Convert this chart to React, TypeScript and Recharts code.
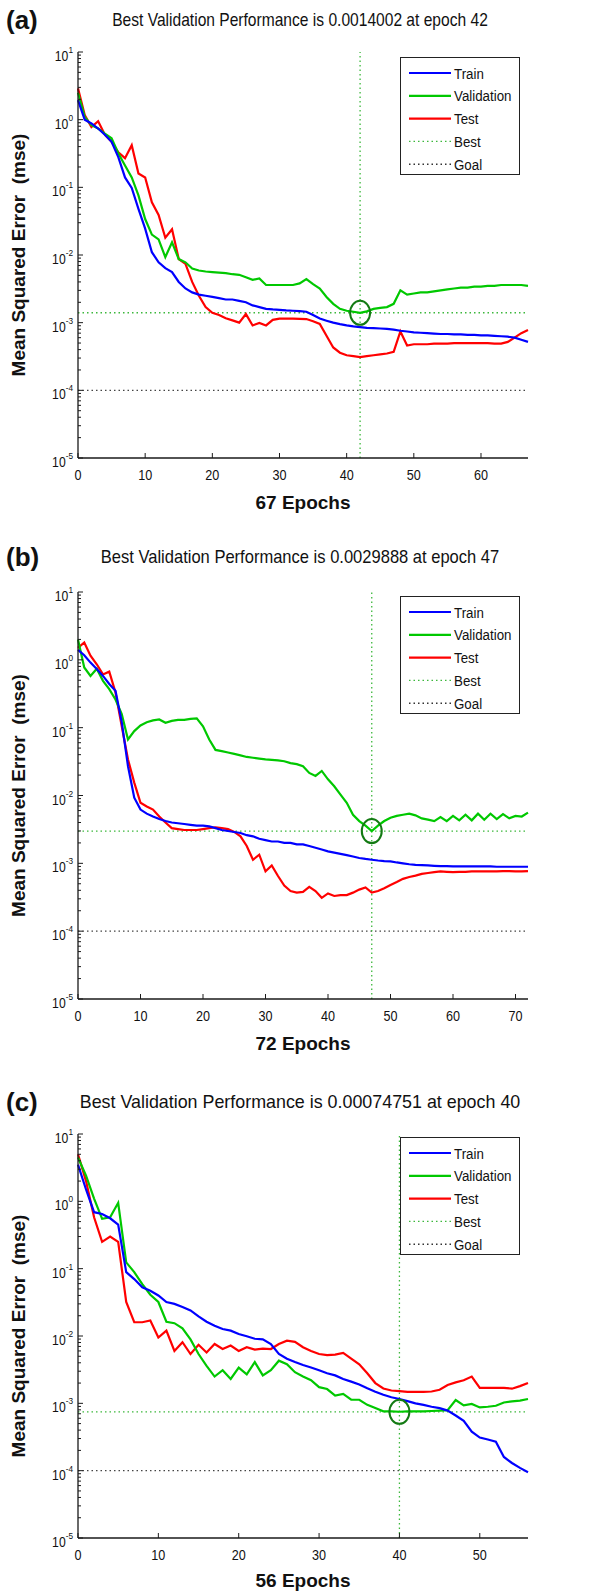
import React from 'react'
import { LineChart, Line, XAxis, YAxis, ReferenceLine, ReferenceDot } from 'recharts'

const FONT = 'Liberation Sans, Arial, Helvetica, sans-serif'

// ---- panel (a): 67 epochs ----
const TRAIN_A = [
  1.95, 1.0, 0.88, 0.74, 0.6, 0.47, 0.28, 0.14, 0.098, 0.048, 0.0245, 0.011, 0.0078, 0.0064, 0.0056, 0.004,
  0.0032, 0.0028, 0.0026, 0.0025, 0.0024, 0.0023, 0.0022, 0.0022, 0.0021, 0.002, 0.0018, 0.0017, 0.0016, 0.00157,
  0.00155, 0.00152, 0.0015, 0.00148, 0.00145, 0.0013, 0.00115, 0.00107, 0.001, 0.00095, 0.00091, 0.00088, 0.00086,
  0.00084, 0.00083, 0.00082, 0.00081, 0.00079, 0.00076, 0.00074, 0.00072, 0.00071, 0.0007, 0.00069, 0.00068,
  0.00068, 0.00067, 0.00067, 0.00066, 0.00066, 0.00065, 0.00065, 0.00064, 0.00063, 0.00062, 0.0006, 0.00056, 0.00052,
]
const VAL_A = [
  2.5, 1.1, 0.83, 0.74, 0.62, 0.53, 0.32, 0.21, 0.14, 0.076, 0.034, 0.02, 0.017, 0.0093, 0.0154, 0.0087, 0.0078,
  0.0063, 0.0059, 0.0057, 0.0056, 0.0055, 0.0054, 0.0052, 0.0051, 0.0047, 0.0043, 0.0045, 0.0036, 0.0036, 0.0036,
  0.0036, 0.0036, 0.0038, 0.0044, 0.0037, 0.0032, 0.0024, 0.0019, 0.0016, 0.0015, 0.00145, 0.0014, 0.00147,
  0.0016, 0.00165, 0.0017, 0.0019, 0.003, 0.0026, 0.0027, 0.0028, 0.0028, 0.0029, 0.003, 0.0031, 0.0032, 0.0033,
  0.0033, 0.0034, 0.0034, 0.0035, 0.0035, 0.0036, 0.0036, 0.0036, 0.0036, 0.0035,
]
const TEST_A = [
  2.9, 1.17, 0.78, 0.95, 0.6, 0.47, 0.33, 0.27, 0.42, 0.16, 0.14, 0.06, 0.039, 0.018, 0.024, 0.0087, 0.0074,
  0.004, 0.0025, 0.0017, 0.0014, 0.0013, 0.00116, 0.00108, 0.001, 0.00134, 0.00091, 0.00099, 0.00091, 0.0011,
  0.00115, 0.00115, 0.00115, 0.00114, 0.00113, 0.00105, 0.00096, 0.00064, 0.00043, 0.00036, 0.00033, 0.00032,
  0.00031, 0.00032, 0.00033, 0.00034, 0.00035, 0.00037, 0.00074, 0.00046, 0.00048, 0.00048, 0.00048, 0.00049,
  0.00049, 0.00049, 0.0005, 0.0005, 0.0005, 0.0005, 0.0005, 0.0005, 0.00049, 0.00049, 0.00052, 0.0006, 0.0007, 0.00078,
]

// ---- panel (b): 72 epochs ----
const TRAIN_B = [
  1.4, 1.17, 0.91, 0.73, 0.58, 0.44, 0.35, 0.12, 0.027, 0.0093, 0.0062, 0.0054, 0.0049, 0.0045, 0.0042, 0.004,
  0.0039, 0.0038, 0.0037, 0.0036, 0.0036, 0.0035, 0.0033, 0.0031, 0.003, 0.0029, 0.0028, 0.0026, 0.0025, 0.0023,
  0.0022, 0.0021, 0.0021, 0.002, 0.002, 0.0019, 0.0019, 0.0018, 0.0017, 0.0016, 0.0015, 0.00144, 0.00138,
  0.00132, 0.00126, 0.0012, 0.00116, 0.00113, 0.0011, 0.00108, 0.00107, 0.00103, 0.001, 0.00097, 0.00095,
  0.00094, 0.00093, 0.00092, 0.00091, 0.00091, 0.0009, 0.0009, 0.0009, 0.0009, 0.0009, 0.0009, 0.0009, 0.00089,
  0.00089, 0.00089, 0.00089, 0.00089, 0.00089,
]
const VAL_B = [
  2.0, 0.77, 0.58, 0.74, 0.49, 0.37, 0.26, 0.158, 0.067, 0.089, 0.108, 0.12, 0.128, 0.132, 0.118, 0.126, 0.13,
  0.13, 0.135, 0.137, 0.105, 0.067, 0.047, 0.045, 0.043, 0.041, 0.039, 0.037, 0.036, 0.035, 0.034, 0.0335, 0.033,
  0.032, 0.03, 0.029, 0.027, 0.0215, 0.0194, 0.023, 0.0173, 0.0137, 0.0103, 0.0078, 0.0052, 0.0042, 0.0036,
  0.003, 0.0036, 0.0042, 0.0047, 0.005, 0.0052, 0.0054, 0.0051, 0.0046, 0.0044, 0.0042, 0.0048, 0.0042, 0.005,
  0.0043, 0.0052, 0.0043, 0.0054, 0.0044, 0.0054, 0.0045, 0.0053, 0.0046, 0.005, 0.0049, 0.0056,
]
const TEST_B = [
  1.5, 1.8, 1.15, 0.86, 0.61, 0.67, 0.33, 0.105, 0.034, 0.0155, 0.0078, 0.0069, 0.0062, 0.0049, 0.004, 0.0033,
  0.0032, 0.0031, 0.0031, 0.0031, 0.0032, 0.0033, 0.0034, 0.0033, 0.0032, 0.0029, 0.0025, 0.0018, 0.00113,
  0.00134, 0.00076, 0.00093, 0.00065, 0.00047, 0.00039, 0.00037, 0.00038, 0.00045, 0.00039, 0.00031, 0.00036,
  0.00033, 0.00034, 0.00034, 0.00037, 0.00041, 0.00044, 0.00037, 0.00039, 0.00043, 0.00048, 0.00053, 0.00059,
  0.00063, 0.00066, 0.0007, 0.00072, 0.00074, 0.00076, 0.00075, 0.00074, 0.00075, 0.00075, 0.00076, 0.00076,
  0.00076, 0.00076, 0.00076, 0.00077, 0.00077, 0.00076, 0.00076, 0.00077,
]

// ---- panel (c): 56 epochs ----
const TRAIN_C = [
  3.5, 1.5, 0.69, 0.65, 0.56, 0.45, 0.089, 0.07, 0.053, 0.047, 0.04, 0.032, 0.03, 0.027, 0.024, 0.0196, 0.0163,
  0.0142, 0.0127, 0.012, 0.0107, 0.0099, 0.0091, 0.0089, 0.0076, 0.0054, 0.0046, 0.0041, 0.0037, 0.0034, 0.0031,
  0.0028, 0.0026, 0.0023, 0.0021, 0.0019, 0.00167, 0.00149, 0.00134, 0.00123, 0.00116, 0.00108, 0.001, 0.00095,
  0.00089, 0.00085, 0.00078, 0.00066, 0.00055, 0.00038, 0.00031, 0.00029, 0.00027, 0.00016, 0.00013, 0.00011, 0.000095,
]
const VAL_C = [
  4.5, 2.4, 1.1, 0.55, 0.58, 0.95, 0.124, 0.089, 0.059, 0.041, 0.032, 0.0163, 0.0155, 0.013, 0.0089, 0.0054,
  0.0036, 0.0025, 0.0031, 0.0023, 0.0034, 0.0027, 0.0041, 0.0026, 0.0031, 0.0043, 0.0038, 0.0029, 0.0025, 0.0022,
  0.00174, 0.00163, 0.0013, 0.00138, 0.00113, 0.00113, 0.00095, 0.00085, 0.00076, 0.00076, 0.00075, 0.00076,
  0.00076, 0.00076, 0.00077, 0.00078, 0.00079, 0.00112, 0.00093, 0.00098, 0.00087, 0.00089, 0.00092, 0.00103,
  0.00107, 0.0011, 0.00116,
]
const TEST_C = [
  5.0, 2.0, 0.58, 0.25, 0.3, 0.25, 0.032, 0.016, 0.016, 0.017, 0.0095, 0.012, 0.006, 0.0081, 0.0054, 0.0074,
  0.0057, 0.0076, 0.0064, 0.0072, 0.006, 0.0068, 0.0063, 0.0065, 0.0064, 0.0076, 0.0085, 0.0082, 0.0068, 0.006,
  0.0054, 0.0052, 0.0053, 0.0056, 0.0046, 0.0038, 0.0028, 0.002, 0.00166, 0.00155, 0.00152, 0.00148, 0.00148,
  0.00148, 0.0015, 0.00159, 0.00187, 0.00205, 0.0022, 0.0025, 0.0017, 0.0017, 0.0017, 0.0017, 0.00165, 0.0018, 0.002,
]

const Y_MAJOR = [1e-5, 1e-4, 1e-3, 1e-2, 1e-1, 1, 10]
const X_TICKS_A = [0, 10, 20, 30, 40, 50, 60]
const X_TICKS_B = [0, 10, 20, 30, 40, 50, 60, 70]
const X_TICKS_C = [0, 10, 20, 30, 40, 50]
const LEGEND_NAMES = ['Train', 'Validation', 'Test', 'Best', 'Goal']
const GOAL = 1e-4

// minor log ticks 2..9 within each decade
const Y_TICKS = Y_MAJOR.flatMap((d, i) =>
  i === Y_MAJOR.length - 1 ? [d] : [d, 2 * d, 3 * d, 4 * d, 5 * d, 6 * d, 7 * d, 8 * d, 9 * d],
)

const BLUE = '#0000ff'
const GREEN = '#00c800'
const RED = '#ff0000'
const BEST_GREEN = '#3cb83c'
const CIRCLE_GREEN = '#137a13'
const AXIS = '#1a1a1a'

const PLOT_LEFT = 78
const PLOT_RIGHT = 528
const SQUEEZE = 0.82 // the source figure is horizontally squeezed

interface PanelProps {
  letter: string
  title: string
  titleScale: number
  xLabel: string
  top: number
  height: number
  plotTop: number
  plotBottom: number
  titleY: number
  legendTop: number
  train: number[]
  val: number[]
  test: number[]
  xTicks: number[]
  bestEpoch: number
  bestValue: number
}

const LEGEND_STYLE = [
  { color: BLUE, dash: undefined },
  { color: GREEN, dash: undefined },
  { color: RED, dash: undefined },
  { color: BEST_GREEN, dash: '1.5 3' },
  { color: '#333', dash: '1.5 3' },
]

const Legend: React.FC<{ left: number; top: number }> = ({ left, top }) => (
  <svg
    width={120}
    height={118}
    style={{ position: 'absolute', left, top, background: '#fff', border: '1px solid #222', boxSizing: 'border-box' }}
  >
    {LEGEND_NAMES.map((name, i) => {
      const y = 15 + i * 22.8
      const st = LEGEND_STYLE[i]
      return (
        <g key={name}>
          <line x1={8} x2={50} y1={y} y2={y} stroke={st.color} strokeWidth={st.dash ? 1.4 : 2.2} strokeDasharray={st.dash} />
          <text transform={`translate(53 ${y + 5.5}) scale(0.86 1)`} fontSize={15.5} fontFamily={FONT} fill="#111">
            {name}
          </text>
        </g>
      )
    })}
  </svg>
)

const BestCircle = (props: any) => (
  <ellipse cx={props.cx} cy={props.cy} rx={10} ry={12} fill="none" stroke={CIRCLE_GREEN} strokeWidth={2} />
)

const Panel: React.FC<PanelProps> = (p) => {
  const data = p.train.map((t, i) => ({ epoch: i, train: t, val: p.val[i], test: p.test[i] }))
  const xMax = p.train.length - 1
  const axisY = p.plotBottom - p.top
  const xAxisHeight = p.height - axisY

  const yTick = (props: any) => {
    const { y, payload } = props
    const lg = Math.log10(payload.value)
    const exp = Math.round(lg)
    const major = Math.abs(lg - exp) < 1e-6
    return (
      <g>
        <line x1={PLOT_LEFT} x2={PLOT_LEFT + (major ? 5 : 3)} y1={y} y2={y} stroke={AXIS} strokeWidth={1} />
        {major && (
          <text
            transform={`translate(${PLOT_LEFT - 5} ${y + 9}) scale(${SQUEEZE + 0.05} 1)`}
            textAnchor="end"
            fontSize={14}
            fontFamily={FONT}
            fill="#111"
          >
            10
            <tspan dy={-8} fontSize={9.5}>
              {exp}
            </tspan>
          </text>
        )}
      </g>
    )
  }

  const xTick = (props: any) => {
    const { x, payload } = props
    return (
      <g>
        <line x1={x} x2={x} y1={axisY} y2={axisY - 5} stroke={AXIS} strokeWidth={1} />
        <text
          transform={`translate(${x} ${axisY + 22}) scale(${SQUEEZE + 0.05} 1)`}
          textAnchor="middle"
          fontSize={14.5}
          fontFamily={FONT}
          fill="#111"
        >
          {payload.value}
        </text>
      </g>
    )
  }

  return (
    <div style={{ position: 'absolute', left: 0, top: p.top, width: 607, height: p.height }}>
      <div
        style={{
          position: 'absolute', left: 6, top: p.titleY - p.top - 12, fontFamily: FONT, fontSize: 26,
          fontWeight: 'bold', lineHeight: '26px', color: '#111',
        }}
      >
        {p.letter}
      </div>
      <div
        style={{
          position: 'absolute', left: 300, top: p.titleY - p.top - 9.5, transform: `translateX(-50%) scaleX(${p.titleScale})`,
          whiteSpace: 'nowrap', fontFamily: FONT, fontSize: 19, lineHeight: '19px', color: '#111',
        }}
      >
        {p.title}
      </div>
      <LineChart
        width={607}
        height={p.height}
        data={data}
        margin={{ top: p.plotTop - p.top, right: 607 - PLOT_RIGHT, bottom: 0, left: 0 }}
        style={{ position: 'absolute', left: 0, top: 0 }}
      >
        <XAxis
          dataKey="epoch"
          type="number"
          domain={[0, xMax]}
          ticks={p.xTicks}
          interval={0}
          height={xAxisHeight}
          tickLine={false}
          tick={xTick}
          axisLine={{ stroke: AXIS, strokeWidth: 1.3 }}
          label={{
            value: p.xLabel, position: 'insideBottom', offset: Math.max(xAxisHeight - 51, 4),
            fontSize: 19, fontWeight: 'bold', fontFamily: FONT, fill: '#111',
          }}
        />
        <YAxis
          type="number"
          scale="log"
          domain={[1e-5, 10]}
          allowDataOverflow
          ticks={Y_TICKS}
          interval={0}
          width={PLOT_LEFT}
          tickLine={false}
          tick={yTick}
          axisLine={{ stroke: AXIS, strokeWidth: 1.3 }}
          label={{
            value: 'Mean Squared Error\u00a0 (mse)', angle: -90, position: 'insideLeft', offset: 18,
            style: { textAnchor: 'middle' }, fontSize: 19, fontWeight: 'bold', fontFamily: FONT, fill: '#111',
          }}
        />
        <ReferenceLine y={GOAL} stroke="#444" strokeWidth={1.3} strokeDasharray="1.5 3" />
        <ReferenceLine y={p.bestValue} stroke={BEST_GREEN} strokeWidth={1.3} strokeDasharray="1.5 3" />
        <ReferenceLine x={p.bestEpoch} stroke={BEST_GREEN} strokeWidth={1.3} strokeDasharray="1.5 3" />
        <Line dataKey="test" stroke={RED} strokeWidth={2.2} dot={false} isAnimationActive={false} />
        <Line dataKey="val" stroke={GREEN} strokeWidth={2.2} dot={false} isAnimationActive={false} />
        <Line dataKey="train" stroke={BLUE} strokeWidth={2.2} dot={false} isAnimationActive={false} />
        <ReferenceDot x={p.bestEpoch} y={p.bestValue} r={11} shape={BestCircle} />
      </LineChart>
      <Legend left={400} top={p.legendTop - p.top} />
    </div>
  )
}

export default function App() {
  return (
    <div style={{ position: 'absolute', left: 0, top: 0, width: 607, height: 1591, background: '#fff', overflow: 'hidden' }}>
      <Panel
        letter="(a)"
        title="Best Validation Performance is 0.0014002 at epoch 42"
        titleScale={0.82}
        xLabel="67 Epochs"
        top={0}
        height={520}
        plotTop={52}
        plotBottom={458}
        titleY={19}
        legendTop={57}
        train={TRAIN_A}
        val={VAL_A}
        test={TEST_A}
        xTicks={X_TICKS_A}
        bestEpoch={42}
        bestValue={0.0014002}
      />
      <Panel
        letter="(b)"
        title="Best Validation Performance is 0.0029888 at epoch 47"
        titleScale={0.87}
        xLabel="72 Epochs"
        top={520}
        height={540}
        plotTop={592}
        plotBottom={999}
        titleY={556}
        legendTop={596}
        train={TRAIN_B}
        val={VAL_B}
        test={TEST_B}
        xTicks={X_TICKS_B}
        bestEpoch={47}
        bestValue={0.0029888}
      />
      <Panel
        letter="(c)"
        title="Best Validation Performance is 0.00074751 at epoch 40"
        titleScale={0.94}
        xLabel="56 Epochs"
        top={1060}
        height={531}
        plotTop={1134}
        plotBottom={1538}
        titleY={1101}
        legendTop={1137}
        train={TRAIN_C}
        val={VAL_C}
        test={TEST_C}
        xTicks={X_TICKS_C}
        bestEpoch={40}
        bestValue={0.00074751}
      />
    </div>
  )
}
